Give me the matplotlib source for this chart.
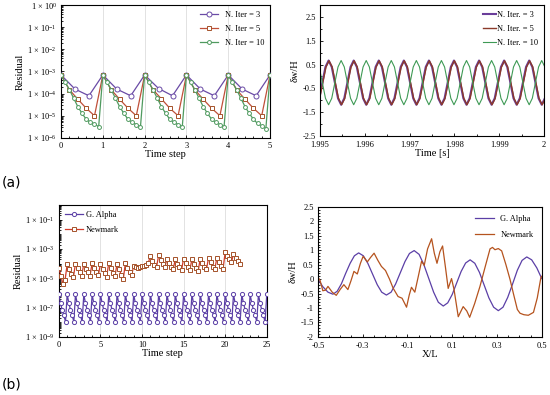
import numpy as np
import matplotlib
matplotlib.use("Agg")
import matplotlib.pyplot as plt
from matplotlib.ticker import FuncFormatter, LogLocator, NullFormatter, MultipleLocator, FixedLocator

plt.rcParams['font.family'] = ['Liberation Serif', 'DejaVu Serif']
plt.rcParams['mathtext.fontset'] = 'custom'
plt.rcParams['mathtext.rm'] = 'Liberation Serif'
plt.rcParams['mathtext.it'] = 'Liberation Serif:italic'
plt.rcParams['axes.linewidth'] = 0.8

# ---- (a) left: residual per iteration, 5 time steps ----
res_it3 = [7.0e-4, 1.6e-4, 8.0e-5,
           7.0e-4, 1.6e-4, 8.0e-5,
           7.0e-4, 1.7e-4, 8.0e-5,
           7.0e-4, 1.6e-4, 8.0e-5,
           7.0e-4, 1.6e-4, 8.0e-5,
           7.0e-4]
res_it5 = [7.0e-4, 1.5e-4, 5.6e-5, 2.2e-5, 1.0e-5,
           7.0e-4, 1.5e-4, 5.6e-5, 2.2e-5, 1.0e-5,
           7.0e-4, 1.5e-4, 5.8e-5, 2.2e-5, 1.0e-5,
           7.0e-4, 1.5e-4, 5.6e-5, 2.2e-5, 1.0e-5,
           7.0e-4, 1.5e-4, 5.6e-5, 2.2e-5, 1.0e-5,
           7.0e-4]
res_it10 = [7.0e-4, 3.2e-4, 1.5e-4, 6.3e-5, 2.6e-5, 1.3e-5, 7.0e-6, 5.0e-6, 4.2e-6, 3.2e-6,
            7.0e-4, 3.2e-4, 1.5e-4, 6.3e-5, 2.6e-5, 1.3e-5, 7.0e-6, 5.0e-6, 4.0e-6, 3.2e-6,
            7.0e-4, 3.2e-4, 1.5e-4, 6.3e-5, 2.6e-5, 1.3e-5, 7.0e-6, 5.0e-6, 4.0e-6, 3.2e-6,
            7.0e-4, 3.2e-4, 1.5e-4, 6.3e-5, 2.6e-5, 1.3e-5, 7.0e-6, 5.0e-6, 4.0e-6, 3.2e-6,
            7.0e-4, 3.2e-4, 1.5e-4, 6.3e-5, 2.6e-5, 1.3e-5, 7.0e-6, 4.5e-6, 3.5e-6, 2.6e-6,
            7.0e-4]

# ---- (a) right: displacement vs time ----
t_start = 1.99498
t_step = 0.00007
disp_it3 = [-0.92, -0.26, 0.40, 0.67, 0.40, -0.26, -0.92, -1.19,
            -0.92, -0.26, 0.40, 0.67, 0.40, -0.26, -0.92, -1.19,
            -0.92, -0.26, 0.40, 0.67, 0.40, -0.26, -0.92, -1.19,
            -0.92, -0.26, 0.40, 0.67, 0.40, -0.26, -0.92, -1.19,
            -0.92, -0.26, 0.40, 0.67, 0.40, -0.26, -0.92, -1.19,
            -0.92, -0.26, 0.40, 0.67, 0.40, -0.26, -0.92, -1.19,
            -0.92, -0.26, 0.40, 0.67, 0.40, -0.26, -0.92, -1.19,
            -0.92, -0.26, 0.40, 0.67, 0.40, -0.26, -0.92, -1.19,
            -0.92, -0.26, 0.40, 0.67, 0.40, -0.26, -0.92, -1.19,
            -0.92]
disp_it5 = [-0.93, -0.27, 0.39, 0.66, 0.40, -0.26, -0.92, -1.19,
            -0.93, -0.27, 0.39, 0.66, 0.40, -0.26, -0.92, -1.19,
            -0.93, -0.27, 0.39, 0.66, 0.40, -0.26, -0.92, -1.19,
            -0.93, -0.27, 0.39, 0.66, 0.40, -0.26, -0.92, -1.19,
            -0.93, -0.27, 0.39, 0.66, 0.40, -0.26, -0.92, -1.19,
            -0.93, -0.27, 0.39, 0.66, 0.40, -0.26, -0.92, -1.19,
            -0.93, -0.27, 0.39, 0.66, 0.40, -0.26, -0.92, -1.19,
            -0.93, -0.27, 0.39, 0.66, 0.40, -0.26, -0.92, -1.19,
            -0.93, -0.27, 0.39, 0.66, 0.40, -0.26, -0.92, -1.19,
            -0.93]
disp_it10 = [0.40, -0.26, -0.92, -1.19, -0.92, -0.26, 0.40, 0.67,
             0.40, -0.26, -0.92, -1.19, -0.92, -0.26, 0.40, 0.67,
             0.40, -0.26, -0.92, -1.19, -0.92, -0.26, 0.40, 0.67,
             0.40, -0.26, -0.92, -1.19, -0.92, -0.26, 0.40, 0.67,
             0.40, -0.26, -0.92, -1.19, -0.92, -0.26, 0.40, 0.67,
             0.40, -0.26, -0.92, -1.19, -0.92, -0.26, 0.40, 0.67,
             0.40, -0.26, -0.92, -1.19, -0.92, -0.26, 0.40, 0.67,
             0.40, -0.26, -0.92, -1.19, -0.92, -0.26, 0.40, 0.67,
             0.40, -0.26, -0.92, -1.19, -0.92, -0.26, 0.40, 0.67,
             0.40]

# ---- (b) left: residual, G. Alpha (5 iter/step) and Newmark (4 iter/step) ----
res_galpha = [
    8.0e-7, 2.0e-7, 7.0e-8, 3.0e-8, 1.1e-8,
    8.0e-7, 2.1e-7, 7.0e-8, 3.0e-8, 1.1e-8,
    8.0e-7, 2.0e-7, 7.0e-8, 3.0e-8, 1.1e-8,
    8.0e-7, 2.0e-7, 7.2e-8, 3.0e-8, 1.1e-8,
    8.0e-7, 2.0e-7, 7.0e-8, 3.0e-8, 1.1e-8,
    8.0e-7, 2.1e-7, 7.0e-8, 3.0e-8, 1.1e-8,
    8.0e-7, 2.0e-7, 7.0e-8, 3.0e-8, 1.1e-8,
    8.0e-7, 2.0e-7, 7.0e-8, 3.1e-8, 1.1e-8,
    8.0e-7, 2.0e-7, 7.0e-8, 3.0e-8, 1.1e-8,
    8.0e-7, 2.0e-7, 7.0e-8, 3.0e-8, 1.1e-8,
    8.0e-7, 2.1e-7, 7.0e-8, 3.0e-8, 1.1e-8,
    8.0e-7, 2.0e-7, 7.0e-8, 3.0e-8, 1.1e-8,
    8.0e-7, 2.0e-7, 7.2e-8, 3.0e-8, 1.1e-8,
    8.0e-7, 2.0e-7, 7.0e-8, 3.0e-8, 1.1e-8,
    8.0e-7, 2.0e-7, 7.0e-8, 3.0e-8, 1.1e-8,
    8.0e-7, 2.1e-7, 7.0e-8, 3.0e-8, 1.1e-8,
    8.0e-7, 2.0e-7, 7.0e-8, 3.0e-8, 1.1e-8,
    8.0e-7, 2.0e-7, 7.0e-8, 3.1e-8, 1.1e-8,
    8.0e-7, 2.0e-7, 7.0e-8, 3.0e-8, 1.1e-8,
    8.0e-7, 2.0e-7, 7.0e-8, 3.0e-8, 1.1e-8,
    8.0e-7, 2.1e-7, 7.0e-8, 3.0e-8, 1.1e-8,
    8.0e-7, 2.0e-7, 7.0e-8, 3.0e-8, 1.1e-8,
    8.0e-7, 2.0e-7, 7.2e-8, 3.0e-8, 1.1e-8,
    8.0e-7, 2.0e-7, 7.0e-8, 3.0e-8, 1.1e-8,
    8.0e-7, 2.0e-7, 7.0e-8, 3.0e-8, 1.0e-8,
    8.0e-7]
res_newmark = [
    5.0e-5, 1.5e-5, 4.0e-6, 8.0e-6,
    9.0e-5, 4.0e-5, 2.0e-5, 1.2e-5,
    1.0e-4, 5.0e-5, 2.5e-5, 1.5e-5,
    1.0e-4, 4.5e-5, 2.5e-5, 1.5e-5,
    1.1e-4, 5.0e-5, 2.5e-5, 1.6e-5,
    1.0e-4, 4.5e-5, 2.2e-5, 1.3e-5,
    1.1e-4, 5.0e-5, 2.4e-5, 1.4e-5,
    1.0e-4, 4.0e-5, 1.8e-5, 9.0e-6,
    1.1e-4, 5.0e-5, 2.5e-5, 1.6e-5,
    7.0e-5, 6.0e-5, 5.0e-5, 5.5e-5,
    7.0e-5, 6.5e-5, 8.0e-5, 1.1e-4,
    3.2e-4, 1.5e-4, 8.0e-5, 6.0e-5,
    3.7e-4, 1.8e-4, 9.0e-5, 5.5e-5,
    2.2e-4, 1.1e-4, 6.0e-5, 4.0e-5,
    2.0e-4, 1.0e-4, 5.5e-5, 3.5e-5,
    2.2e-4, 1.1e-4, 5.5e-5, 3.5e-5,
    2.0e-4, 1.0e-4, 5.0e-5, 3.0e-5,
    2.2e-4, 1.1e-4, 6.0e-5, 4.0e-5,
    2.5e-4, 1.2e-4, 6.0e-5, 4.0e-5,
    2.5e-4, 1.3e-4, 7.0e-5, 4.5e-5,
    6.0e-4, 3.5e-4, 2.0e-4, 1.2e-4,
    4.5e-4, 2.5e-4, 1.5e-4, 1.0e-4]

# ---- (b) right: displacement along X/L ----
xl_galpha = [-0.500, -0.478, -0.455, -0.433,
             -0.414, -0.395, -0.376, -0.356, -0.337, -0.318,
             -0.297, -0.277, -0.256, -0.235, -0.215, -0.194,
             -0.173, -0.153, -0.132, -0.111, -0.091, -0.070,
             -0.048, -0.027, -0.005, 0.017, 0.038, 0.060,
             0.080, 0.100, 0.120, 0.140, 0.160, 0.180,
             0.201, 0.222, 0.243, 0.264, 0.285, 0.306,
             0.327, 0.348, 0.370, 0.391, 0.412, 0.433,
             0.455, 0.478, 0.500]
dw_galpha = [0.00, -0.26, -0.45, -0.52,
             -0.42, -0.16, 0.20, 0.55, 0.81, 0.91,
             0.81, 0.55, 0.18, -0.19, -0.45, -0.55,
             -0.45, -0.17, 0.22, 0.61, 0.89, 0.99,
             0.86, 0.51, 0.03, -0.45, -0.80, -0.93,
             -0.82, -0.53, -0.13, 0.27, 0.56, 0.67,
             0.55, 0.23, -0.21, -0.65, -0.97, -1.09,
             -0.97, -0.63, -0.16, 0.31, 0.65, 0.77,
             0.67, 0.39, 0.02]
xl_newmark = [-0.500, -0.490, -0.478, -0.466, -0.455, -0.436, -0.418, -0.400,
              -0.384, -0.366, -0.352, -0.339, -0.324, -0.310, -0.298, -0.279,
              -0.265, -0.249, -0.232, -0.216, -0.198, -0.180, -0.164, -0.142,
              -0.124, -0.104, -0.092, -0.082, -0.067, -0.050, -0.037, -0.025,
              -0.010, 0.008, 0.020, 0.032, 0.045, 0.057, 0.070, 0.082,
              0.097, 0.108, 0.127, 0.149, 0.165, 0.178, 0.200, 0.224,
              0.248, 0.269, 0.280, 0.291, 0.306, 0.321, 0.340, 0.358,
              0.375, 0.391, 0.403, 0.420, 0.440, 0.463, 0.480, 0.496, 0.500]
dw_newmark = [0.08, -0.05, -0.40, -0.38, -0.25, -0.45, -0.56, -0.35,
              -0.19, -0.36, -0.05, 0.27, 0.18, 0.55, 0.79, 0.60,
              0.75, 0.90, 0.65, 0.44, 0.30, 0.00, -0.31, -0.60,
              -0.66, -0.97, -0.55, -0.28, -0.45, 0.15, 0.62, 0.48,
              1.05, 1.40, 0.90, 0.55, 0.95, 1.15, 0.40, -0.32,
              0.02, -0.35, -1.30, -0.95, -1.10, -1.32, -0.85, -0.25,
              0.45, 1.05, 1.10, 1.02, 1.06, 0.98, 0.50, 0.00,
              -0.55, -1.05, -1.18, -1.23, -1.25, -1.15, -0.65, 0.05, 0.10]

PURPLE = '#6A4BA6'
ORANGE = '#C0503A'
GREEN = '#4F9A5F'
TFS = 6
LFS = 7.5


def sci_fmt(v, pos):
    if v <= 0:
        return ''
    return '1 × 10$^{%d}$' % int(round(np.log10(v)))


def style_axes(ax):
    ax.tick_params(which='both', direction='in', labelsize=TFS, width=0.6, pad=3)
    ax.tick_params(which='major', length=2.5)
    ax.tick_params(which='minor', length=1.5)
    for s in ax.spines.values():
        s.set_linewidth(0.8)


fig = plt.figure(figsize=(5.5, 3.95), dpi=100)

# (a) left
ax1 = fig.add_axes([0.111, 0.651, 0.380, 0.336])
n3, n5, n10 = 3, 5, 10
ax1.plot(np.arange(len(res_it3)) / n3, res_it3, '-o', color=PURPLE, lw=0.9,
         ms=3.6, mfc='white', mec=PURPLE, mew=0.7, label='N. Iter = 3', zorder=3)
ax1.plot(np.arange(len(res_it5)) / n5, res_it5, '-s', color=ORANGE, lw=0.9,
         ms=2.8, mfc='white', mec='#A5522A', mew=0.7, label='N. Iter = 5', zorder=3)
ax1.plot(np.arange(len(res_it10)) / n10, res_it10, '-o', color=GREEN, lw=0.9,
         ms=2.8, mfc='white', mec=GREEN, mew=0.7, label='N. Iter = 10', zorder=3)
ax1.set_yscale('log')
ax1.set_ylim(1e-6, 1e0)
ax1.set_xlim(0, 5)
ax1.xaxis.set_major_locator(MultipleLocator(1))
ax1.xaxis.set_minor_locator(MultipleLocator(0.2))
ax1.yaxis.set_major_locator(LogLocator(base=10, numticks=10))
ax1.yaxis.set_minor_locator(LogLocator(base=10, subs=np.arange(2, 10), numticks=100))
ax1.yaxis.set_major_formatter(FuncFormatter(sci_fmt))
ax1.yaxis.set_minor_formatter(NullFormatter())
ax1.grid(axis='x', which='major', color='#dddddd', lw=0.6)
ax1.set_xlabel('Time step', fontsize=LFS, labelpad=0)
ax1.set_ylabel('Residual', fontsize=LFS, labelpad=2)
style_axes(ax1)
ax1.legend(loc='upper right', frameon=False, fontsize=TFS, handlelength=2.2,
           borderaxespad=0.3, labelspacing=0.7)

# (a) right
ax2 = fig.add_axes([0.582, 0.656, 0.407, 0.331])
t3 = t_start + np.arange(len(disp_it3)) * t_step
t5 = t_start + 0.00001 + np.arange(len(disp_it5)) * t_step
t10 = t_start + np.arange(len(disp_it10)) * t_step
ax2.plot(t3, disp_it3, color='#6A3D9A', lw=1.5, label='N. Iter. = 3')
ax2.plot(t5, disp_it5, color='#8B3A2A', lw=1.0, label='N. Iter. = 5')
ax2.plot(t10, disp_it10, color='#3E9A55', lw=0.8, label='N. Iter. = 10')
ax2.set_xlim(1.995, 2.0)
ax2.set_ylim(-2.5, 3.0)
ax2.set_yticks([-2.5, -1.5, -0.5, 0.5, 1.5, 2.5])
ax2.set_yticklabels(['-2.5', '-1.5', '-0.5', '0.5', '1.5', '2.5'])
ax2.set_xticks([1.995, 1.996, 1.997, 1.998, 1.999, 2.0])
ax2.set_xticklabels(['1.995', '1.996', '1.997', '1.998', '1.999', '2'])
ax2.yaxis.set_minor_locator(MultipleLocator(0.5))
ax2.xaxis.set_minor_locator(MultipleLocator(0.0005))
ax2.set_xlabel('Time [s]', fontsize=LFS, labelpad=0)
ax2.set_ylabel('δw/H', fontsize=LFS, labelpad=2)
style_axes(ax2)
ax2.tick_params(axis='x', pad=4)
ax2.legend(loc='upper right', frameon=False, fontsize=TFS, handlelength=1.6,
           handletextpad=0.1, borderaxespad=0.3, labelspacing=0.7)

# (b) left
ax3 = fig.add_axes([0.107, 0.147, 0.378, 0.334])
ax3.plot(np.arange(len(res_galpha)) / 5, res_galpha, '-o', color='#5B3FA6', lw=0.9,
         ms=3.0, mfc='white', mec='#5B3FA6', mew=0.7, label='G. Alpha', zorder=3)
ax3.plot(np.arange(len(res_newmark)) / 4, res_newmark, '-s', color='#D43A2A', lw=0.9,
         ms=2.6, mfc='white', mec='#A5522A', mew=0.7, label='Newmark', zorder=3)
ax3.set_yscale('log')
ax3.set_ylim(1e-9, 1e0)
ax3.set_xlim(0, 25)
ax3.yaxis.set_major_locator(FixedLocator([1e-9, 1e-7, 1e-5, 1e-3, 1e-1]))
ax3.yaxis.set_minor_locator(LogLocator(base=10, subs=np.arange(1, 10), numticks=100))
ax3.yaxis.set_major_formatter(FuncFormatter(sci_fmt))
ax3.yaxis.set_minor_formatter(NullFormatter())
ax3.xaxis.set_major_locator(MultipleLocator(5))
ax3.xaxis.set_minor_locator(MultipleLocator(1))
ax3.grid(axis='x', which='major', color='#dddddd', lw=0.6)
ax3.set_xlabel('Time step', fontsize=LFS, labelpad=0)
ax3.set_ylabel('Residual', fontsize=LFS, labelpad=2)
style_axes(ax3)
ax3.legend(loc='upper left', frameon=False, fontsize=TFS, handlelength=2.2,
           handletextpad=0.3, borderaxespad=0.3, labelspacing=0.9)

# (b) right
ax4 = fig.add_axes([0.578, 0.147, 0.407, 0.329])
ax4.plot(xl_galpha, dw_galpha, color='#5B3FA6', lw=0.9, label='G. Alpha')
ax4.plot(xl_newmark, dw_newmark, color='#B5531E', lw=0.9, label='Newmark')
ax4.set_xlim(-0.5, 0.5)
ax4.set_ylim(-2, 2.5)
ax4.set_xticks([-0.5, -0.3, -0.1, 0.1, 0.3, 0.5])
ax4.set_xticklabels(['-0.5', '-0.3', '-0.1', '0.1', '0.3', '0.5'])
ax4.yaxis.set_major_locator(MultipleLocator(0.5))
ax4.yaxis.set_major_formatter(FuncFormatter(lambda v, p: ('%g' % v)))
ax4.yaxis.set_minor_locator(MultipleLocator(0.1))
ax4.xaxis.set_minor_locator(MultipleLocator(0.05))
ax4.set_xlabel('X/L', fontsize=LFS, labelpad=0)
ax4.set_ylabel('δw/H', fontsize=LFS, labelpad=2)
style_axes(ax4)
ax4.tick_params(axis='x', pad=4)
ax4.legend(loc='upper right', frameon=False, fontsize=TFS, handlelength=2.2,
           borderaxespad=0.6, labelspacing=0.9)

fig.text(0.004, 0.537, '(a)', fontsize=10, family='DejaVu Sans', va='center')
fig.text(0.004, 0.027, '(b)', fontsize=10, family='DejaVu Sans', va='center')

fig.savefig('out.png', dpi=100)
